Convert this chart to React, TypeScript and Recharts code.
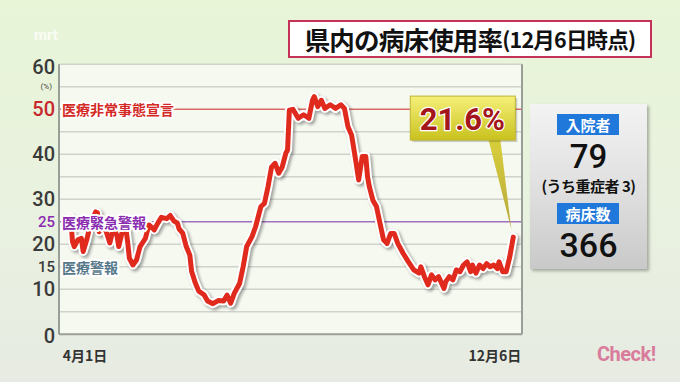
import React from 'react';
import { LineChart, Line, XAxis, YAxis, ReferenceLine, ReferenceDot, ReferenceArea } from 'recharts';

const days = [0, 1, 2, 4, 6, 7, 9, 11, 14, 15, 16, 18, 20, 22, 24, 26, 27, 29, 31, 32, 33, 35, 37, 39, 42, 44, 46, 47, 49, 51, 54, 56, 58, 60, 61, 63, 65, 67, 68, 70, 72, 75, 77, 80, 83, 86, 88, 90, 92, 95, 97, 99, 102, 104, 106, 107, 109, 111, 113, 115, 117, 119, 121, 122, 123, 125, 128, 131, 134, 136, 137, 139, 141, 143, 146, 149, 152, 154, 156, 158, 160, 162, 164, 166, 167, 168, 170, 172, 174, 176, 178, 180, 182, 184, 187, 190, 193, 196, 197, 199, 201, 203, 205, 207, 210, 211, 213, 215, 217, 219, 221, 223, 225, 226, 228, 230, 232, 234, 236, 238, 240, 241, 243, 245, 247, 249];
const rates = [26, 20.6, 19.5, 21, 21.3, 18.4, 21, 24.3, 27.2, 27, 22.8, 24.3, 22.8, 20.3, 23.6, 22, 19.5, 22.8, 23.6, 20.6, 16.9, 15.4, 16.5, 19.5, 21.3, 24.3, 23.6, 23.2, 24.7, 26, 25.7, 26.4, 25.2, 24.7, 23.4, 22.5, 19.5, 17.6, 14, 11.5, 9.6, 8.8, 7.4, 6.8, 7.5, 7.4, 8.7, 6.9, 9.1, 11.3, 15, 19.5, 21.7, 23.9, 26.9, 28.4, 29.1, 32.8, 37.2, 38, 35.8, 37.2, 40.2, 41, 49.8, 50, 48, 48.8, 48, 52, 52.8, 50.6, 52, 50.2, 51, 50.2, 51, 50.2, 46.1, 44.3, 39.5, 34.3, 39.5, 39.5, 35, 32.8, 29.8, 28.4, 24.7, 21, 20.2, 22.4, 22.4, 20.2, 18, 16.1, 14.3, 13.6, 15, 12.8, 11, 13.2, 12.1, 12.8, 10.2, 11.7, 12.8, 12.1, 14.3, 13.9, 15.4, 16.1, 13.9, 15.4, 13.6, 15.4, 14.6, 15.7, 15, 15.4, 14.6, 16.1, 13.9, 13.9, 17.2, 21.6];

const data = days.map((d, i) => ({ day: d, rate: rates[i] }));

const yTicks = [0, 10, 15, 20, 25, 30, 40, 50, 60];
const gridValues = [5, 10, 15, 20, 25, 30, 35, 40, 45, 50, 55, 60];
const xTicks = [0, 249];
const xTickLabels = ['4月1日', '12月6日'];
const thresholdValues = [50, 25, 15];
const thresholdLabels = ['医療非常事態宣言', '医療緊急警報', '医療警報'];
const thresholdColors = ['#d42a26', '#8a2cb0', '#56788a'];
const latestDay = 249;
const latestRate = 21.6;
const latestLabel = '21.6%';
const titleText = '県内の病床使用率';
const titleDate = '(12月6日時点)';
const panelLabels = ['入院者', '病床数'];
const inpatients = 79;
const severeText = '(うち重症者 3)';
const beds = 366;

const NUM_FONT = "Roboto, 'Noto Sans', sans-serif";
const JP_FONT = "'Noto Sans CJK JP', 'Noto Sans', sans-serif";

const YTick = (props: any) => {
  const { x, y, payload } = props;
  const v = payload.value;
  const small = v === 25 || v === 15;
  const color = v === 50 ? '#c8282c' : v === 25 ? '#8a2cb0' : '#3a3a3a';
  const dy = v === 60 ? 3 : v === 0 ? 2 : 0;
  return (
    <g>
      <text x={x} y={y + dy} textAnchor="end" dominantBaseline="central" fontSize={small ? 15 : 20}
        fontFamily={NUM_FONT} fontWeight={500} fill={color}>{v}</text>
      {v === 60 && (
        <text x={x - 3} y={y + 22} textAnchor="end" dominantBaseline="central" fontSize={8}
          fontFamily={NUM_FONT} fill="#444">(%)</text>
      )}
    </g>
  );
};

const XTick = (props: any) => {
  const { x, y, payload } = props;
  const i = xTicks.indexOf(payload.value);
  const first = i === 0;
  return (
    <text x={first ? x - 8 : x + 8} y={y + 13} textAnchor={first ? 'start' : 'end'} dominantBaseline="central"
      fontSize={14} fontFamily={JP_FONT} fontWeight={700} fill="#333">{xTickLabels[i]}</text>
  );
};

const makeThresholdLabel = (i: number) => (props: any) => {
  const { viewBox } = props;
  return (
    <text x={viewBox.x + 3} y={viewBox.y} dominantBaseline="central" fontSize={14}
      fontFamily={JP_FONT} fontWeight={700} fill={thresholdColors[i]} stroke="#ffffff"
      strokeWidth={4} paintOrder="stroke" strokeLinejoin="round">{thresholdLabels[i]}</text>
  );
};

const Callout = (props: any) => {
  const { cx, cy } = props;
  if (cx == null || cy == null) return null;
  const bx = cx - 103;
  const by = cy - 141;
  return (
    <g>
      <defs>
        <linearGradient id="callGrad" x1="0" y1="0" x2="0" y2="1">
          <stop offset="0%" stopColor="#f6f07a" />
          <stop offset="100%" stopColor="#c9c21e" />
        </linearGradient>
        <linearGradient id="tailGrad" x1="0" y1="0" x2="0" y2="1">
          <stop offset="0%" stopColor="#d8cf3a" />
          <stop offset="100%" stopColor="#b8a840" />
        </linearGradient>
      </defs>
      <polygon points={`${cx - 25},${cy - 98} ${cx - 13},${cy - 98} ${cx - 2},${cy - 8}`} fill="url(#tailGrad)" />
      <rect x={bx + 2} y={by + 2} width={105} height={44} fill="rgba(0,0,0,0.18)" />
      <rect x={bx} y={by} width={105} height={44} fill="url(#callGrad)" stroke="#bfb530" strokeWidth={1} />
      <text x={bx + 52} y={by + 23} textAnchor="middle" dominantBaseline="central" fontSize={31}
        fontFamily={NUM_FONT} fontWeight={700} fill="#a3161a" stroke="#ffffff" strokeWidth={2.5}
        paintOrder="stroke" strokeLinejoin="round">{latestLabel}</text>
    </g>
  );
};

export default function App() {
  return (
    <div style={{
      position: 'absolute', left: 0, top: 0, width: 680, height: 382, overflow: 'hidden',
      background: 'linear-gradient(180deg, #e8f5d7 0%, #e9f2df 50%, #e7ebe3 100%)',
    }}>
      <div style={{ position: 'absolute', left: 34, top: 26, fontFamily: NUM_FONT, fontSize: 15, fontWeight: 700, color: 'rgba(255,255,255,0.75)' }}>mrt</div>
      <div style={{
        position: 'absolute', left: 288, top: 20, width: 360, height: 34, background: '#ffffff',
        border: '2px solid #c4325a', display: 'flex', alignItems: 'center', justifyContent: 'center',
        fontFamily: JP_FONT, fontWeight: 700, color: '#111', whiteSpace: 'nowrap', lineHeight: '34px',
      }}>
        <span style={{ fontSize: 25.5, letterSpacing: -0.8 }}>{titleText}</span>
        <span style={{ fontSize: 21.5, letterSpacing: -0.8 }}>{titleDate}</span>
      </div>
      <div style={{ position: 'absolute', left: 0, top: 0 }}>
        <LineChart width={680} height={382} data={data} margin={{ top: 64.3, right: 158, bottom: 17.7, left: 0 }}>
          <XAxis dataKey="day" type="number" domain={[-6.6, 253.9]} ticks={xTicks} tick={<XTick />}
            tickLine={false} axisLine={{ stroke: '#9a9e98', strokeWidth: 2 }} height={30} interval={0} allowDataOverflow />
          <YAxis type="number" domain={[0, 60]} ticks={yTicks} tick={<YTick />} tickLine={false} tickSize={0}
            tickMargin={4} axisLine={{ stroke: '#9a9e98', strokeWidth: 2 }} width={59} interval={0} />
          <ReferenceArea x1={-6.6} x2={253.9} y1={0} y2={60} fill="#f6f9f0" fillOpacity={1} stroke="none" />
          {gridValues.map((v) => (
            <ReferenceLine key={'g' + v} y={v}
              stroke={v === 50 ? '#d86a6a' : v === 25 ? '#a070c0' : '#cfd3cb'} strokeWidth={1.5} />
          ))}
          <ReferenceLine x={253.9} stroke="#9a9e98" strokeWidth={2} />
          <Line dataKey="rate" type="linear" stroke="#ffffff" strokeWidth={9} dot={false} isAnimationActive={false}
            strokeLinejoin="round" strokeLinecap="round"
            style={{ filter: 'drop-shadow(2px 2px 1.5px rgba(0,0,0,0.35))' }} />
          <Line dataKey="rate" type="linear" stroke="#e02a1e" strokeWidth={5} dot={false} isAnimationActive={false}
            strokeLinejoin="round" strokeLinecap="round" />
          {thresholdValues.map((v, i) => (
            <ReferenceLine key={'t' + v} y={v} stroke="none" label={makeThresholdLabel(i)} />
          ))}
          <ReferenceDot x={latestDay} y={latestRate} shape={<Callout />} />
        </LineChart>
      </div>
      <div style={{
        position: 'absolute', left: 530, top: 104, width: 117, height: 165,
        background: 'linear-gradient(180deg, #f3f3f3 0%, #dcdcdc 60%, #c9c9c9 100%)',
        boxShadow: '2px 2px 3px rgba(0,0,0,0.3)', fontFamily: JP_FONT, fontWeight: 700,
      }}>
        <div style={{ position: 'absolute', left: 27, top: 10, width: 62, height: 21, background: '#1f78da', color: '#fff', fontSize: 15, lineHeight: '21px', textAlign: 'center' }}>{panelLabels[0]}</div>
        <div style={{ position: 'absolute', left: 0, top: 33, width: 117, textAlign: 'center', fontSize: 33, lineHeight: '40px', fontFamily: NUM_FONT, fontWeight: 500, color: '#111' }}>{inpatients}</div>
        <div style={{ position: 'absolute', left: 0, top: 72, width: 117, textAlign: 'center', fontSize: 15, lineHeight: '20px', color: '#111', letterSpacing: -0.5 }}>{severeText}</div>
        <div style={{ position: 'absolute', left: 27, top: 99, width: 62, height: 21, background: '#1f78da', color: '#fff', fontSize: 15, lineHeight: '21px', textAlign: 'center' }}>{panelLabels[1]}</div>
        <div style={{ position: 'absolute', left: 0, top: 121, width: 117, textAlign: 'center', fontSize: 34, lineHeight: '40px', fontFamily: NUM_FONT, fontWeight: 500, color: '#111' }}>{beds}</div>
      </div>
      <div style={{ position: 'absolute', left: 597, top: 342, fontFamily: NUM_FONT, fontSize: 20, fontWeight: 700, color: '#d97c9c', letterSpacing: -0.5 }}>Check!</div>
    </div>
  );
}
